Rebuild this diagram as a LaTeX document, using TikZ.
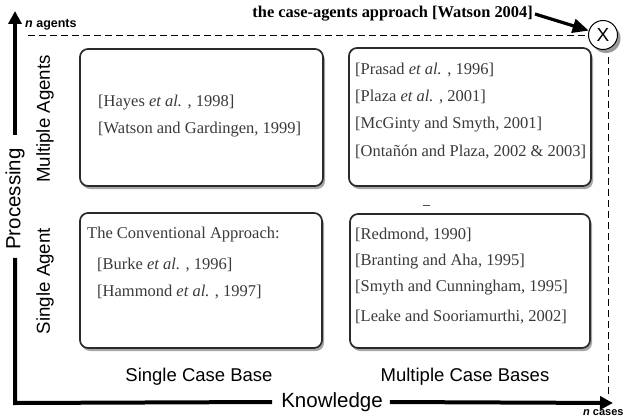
\documentclass[tikz,border=0pt]{standalone}
\usepackage{fontspec}
\setmainfont{Liberation Serif}
\setsansfont{Liberation Sans}
\usetikzlibrary{arrows.meta,shadows}

\definecolor{boxtext}{HTML}{3A3A3A}
\definecolor{boxline}{HTML}{2A2A2A}

\begin{document}
\begin{tikzpicture}[x=1pt,y=1pt,
  quad/.style={draw=boxline, line width=1.7pt, rounded corners=8pt, fill=white,
    inner sep=0pt,
    drop shadow={shadow xshift=2pt, shadow yshift=-3pt, fill=black, opacity=0.35}},
  ref/.style={anchor=west, inner sep=0pt, text=boxtext, font=\fontsize{16.5}{18}\selectfont},
  axislabel/.style={font=\sffamily\fontsize{20.5}{22}\selectfont, inner sep=0pt},
  rowlabel/.style={font=\sffamily\fontsize{18.7}{20}\selectfont, inner sep=0pt, rotate=90},
  collabel/.style={font=\sffamily\fontsize{18.5}{20}\selectfont, inner sep=0pt},
  axisline/.style={line width=4pt, line join=miter},
  axistip/.style={-{Triangle[length=13pt,width=13pt]}},
  guide/.style={line width=0.9pt, dash pattern=on 7pt off 4pt},
]
\useasboundingbox (0,0) rectangle (626,-420);

% the four quadrants
\node[quad, minimum width=243pt, minimum height=137pt] (tl) at (201.5,-117.5) {};
\node[quad, minimum width=242pt, minimum height=138pt] (tr) at (470,-117) {};
\node[quad, minimum width=242pt, minimum height=135pt] (bl) at (201,-280.5) {};
\node[quad, minimum width=240pt, minimum height=134pt] (br) at (470,-281) {};

% references in each quadrant
\node[ref] (tl1) at (98,-103) {[Hayes \textit{et al.} , 1998]};
\node[ref] (tl2) at (98,-130) {[Watson and Gardingen, 1999]};

\node[ref] (tr1) at (355,-70) {[Prasad \textit{et al.} , 1996]};
\node[ref] (tr2) at (355,-97) {[Plaza \textit{et al.} , 2001]};
\node[ref] (tr3) at (355,-125) {[McGinty and Smyth, 2001]};
\node[ref] (tr4) at (355,-152) {[Ontañón and Plaza, 2002 \& 2003]};

\node[ref] (bl0) at (87,-235) {The Conventional Approach:};
\node[ref] (bl1) at (97,-265) {[Burke \textit{et al.} , 1996]};
\node[ref] (bl2) at (97,-292) {[Hammond \textit{et al.} , 1997]};

\node[ref] (br1) at (355,-235) {[Redmond, 1990]};
\node[ref] (br2) at (355,-262) {[Branting and Aha, 1995]};
\node[ref] (br3) at (355,-288) {[Smyth and Cunningham, 1995]};
\node[ref] (br4) at (355,-317) {[Leake and Sooriamurthi, 2002]};

% small mark between the right-hand quadrants
\draw[line width=1pt, black!70] (423,-205) -- (430,-205);

% row and column labels
\node[rowlabel] (multi) at (45,-119) {Multiple Agents};
\node[rowlabel] (single) at (45,-281) {Single Agent};
\node[collabel] (scb) at (199,-377) {Single Case Base};
\node[collabel] (mcb) at (465,-377) {Multiple Case Bases};

% axes
\node[axislabel, rotate=90] (proc) at (15,-199) {Processing};
\node[axislabel] (know) at (332,-402) {Knowledge};
\coordinate (origin) at (15,-403);
\coordinate (ytop) at (15,-11);
\coordinate (xend) at (613,-403);
\draw[axisline] ([yshift=-8pt]proc.west) -- (origin) -- ([xshift=-9pt]know.west);
\draw[axisline, axistip] ([yshift=13pt]proc.east) -- (ytop);
\draw[axisline, axistip] ([xshift=7pt]know.east) -- (xend);

\node[anchor=west, inner sep=0pt, font=\sffamily\bfseries\fontsize{12.5}{14}\selectfont] (nagents) at (25,-25) {\textit{n} agents};
\node[anchor=west, inner sep=0pt, font=\sffamily\bfseries\fontsize{11}{12}\selectfont] (ncases) at (583,-413) {\textit{n} cases};

% the case-agents corner
\node[circle, draw, line width=1pt, fill=white, minimum size=29pt, inner sep=0pt,
      font=\sffamily\fontsize{19}{20}\selectfont,
      drop shadow={shadow xshift=3pt, shadow yshift=-3.5pt, fill=black, opacity=0.4}] (xnode) at (603,-35) {X};
\node[anchor=east, inner sep=0pt, font=\bfseries\fontsize{16.4}{18}\selectfont] (title) at (533,-14) {the case-agents approach [Watson 2004]};
\draw[line width=3.2pt, -{Triangle[length=16pt,width=14pt]}] ([xshift=2pt]title.east) -- (xnode);

\coordinate (dashL) at (28,-35);
\coordinate (dashT) at (608,-57);
\coordinate (dashB) at (608,-395);
\draw[guide] (dashL) -- (xnode.west);
\draw[guide] (dashT) -- (dashB);
\end{tikzpicture}
\end{document}
